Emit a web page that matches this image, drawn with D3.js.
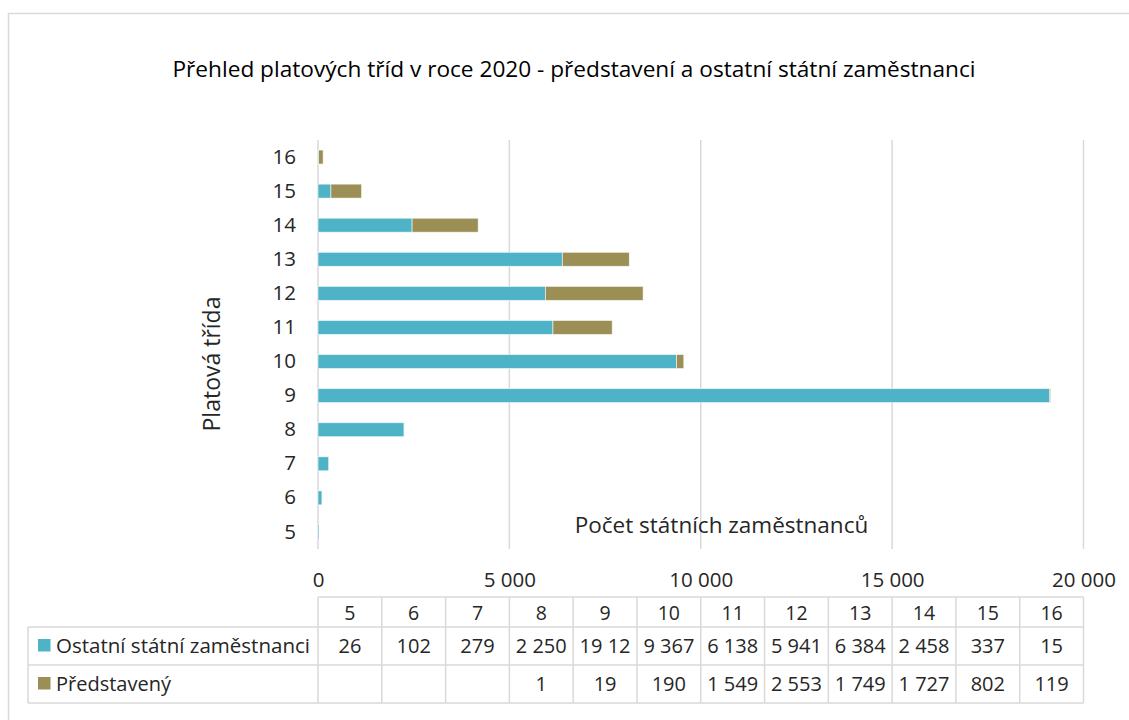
<!DOCTYPE html>
<html>
<head>
<meta charset="utf-8">
<script src="https://cdn.jsdelivr.net/npm/d3@7"></script>
<style>
  html, body { margin: 0; padding: 0; background: #fff; }
  svg { display: block; font-family: "Open Sans", "Noto Sans", sans-serif; }
</style>
</head>
<body>
<svg id="chart" width="1129" height="720"></svg>
<script>
// ---- data ----
const categories = ["5", "6", "7", "8", "9", "10", "11", "12", "13", "14", "15", "16"];
const ostatni    = [26, 102, 279, 2250, 19120, 9367, 6138, 5941, 6384, 2458, 337, 15];
const predstaveny = [null, null, null, 1, 19, 190, 1549, 2553, 1749, 1727, 802, 119];
const seriesNames = ["Ostatní státní zaměstnanci", "Představený"];
const xTicks = [0, 5000, 10000, 15000, 20000];
const titleText = "Přehled platových tříd v roce 2020 - představení a ostatní státní zaměstnanci";
const xTitle = "Počet státních zaměstnanců";
const yTitle = "Platová třída";

// ---- setup ----
const colors = ["#4fb3c8", "#9b8f55"];
const grid = "#d9d9d9";
const textCol = "#262626";
const svg = d3.select("#chart");

const fmt = v => d3.format(",")(v).replace(/,/g, "\u00a0");

// outer frame
svg.append("rect").attr("x", 8.5).attr("y", 13.5).attr("width", 1300).attr("height", 900)
  .attr("fill", "none").attr("stroke", grid).attr("stroke-width", 1.5);

// title
svg.append("text").attr("x", 574).attr("y", 77).attr("text-anchor", "middle")
  .attr("font-size", 21).attr("fill", "#000")
  .attr("textLength", 803).attr("lengthAdjust", "spacingAndGlyphs")
  .text(titleText);

const x = d3.scaleLinear().domain([0, 20000]).range([318, 1083.5]);
const y = d3.scaleBand().domain(categories.slice().reverse()).range([140, 549]).paddingInner(0.59).paddingOuter(0.295);

// gridlines (incl. axis line at 0)
svg.append("g").selectAll("line").data(xTicks).join("line")
  .attr("x1", d => x(d)).attr("x2", d => x(d))
  .attr("y1", 140).attr("y2", 549)
  .attr("stroke", grid).attr("stroke-width", 1.5);

// stacked bars
const rows = categories.map((c, i) => ({ cat: c, a: ostatni[i] || 0, b: predstaveny[i] || 0 }));
const stack = d3.stack().keys(["a", "b"])(rows);
svg.append("g").selectAll("g").data(stack).join("g")
  .attr("fill", (d, i) => colors[i])
  .selectAll("rect").data(d => d.filter(p => p[1] - p[0] > 0)).join("rect")
  .attr("x", d => x(d[0]))
  .attr("width", d => x(d[1]) - x(d[0]))
  .attr("y", d => y(d.data.cat))
  .attr("height", y.bandwidth())
  .attr("stroke", "#ffffff").attr("stroke-opacity", 0.7).attr("stroke-width", 0.8);

// y axis labels
const yAxis = svg.append("g").attr("transform", "translate(318,0)")
  .call(d3.axisLeft(y).tickSize(0).tickPadding(22));
yAxis.select(".domain").remove();
yAxis.selectAll("text").attr("font-size", 20.5).attr("fill", textCol)
  .attr("font-family", "'Open Sans', sans-serif");

// x axis labels
const xAxis = svg.append("g").attr("transform", "translate(0,568)")
  .call(d3.axisBottom(x).tickValues(xTicks).tickSize(0).tickPadding(0).tickFormat(fmt));
xAxis.select(".domain").remove();
xAxis.selectAll("text").attr("font-size", 20.5).attr("fill", textCol)
  .attr("font-family", "'Open Sans', sans-serif").attr("dy", "0.93em");

// axis titles
svg.append("text").attr("x", 721.5).attr("y", 533).attr("text-anchor", "middle")
  .attr("font-size", 22.5).attr("fill", textCol).text(xTitle);
svg.append("text").attr("transform", "translate(220,364) rotate(-90)").attr("text-anchor", "middle")
  .attr("font-size", 23).attr("fill", textCol).text(yTitle);

// ---- data table ----
const colW = (x(20000) - x(0)) / categories.length;
const colX = i => x(0) + i * colW;
const rowTop = [597, 627, 665, 703];
const tbl = svg.append("g");
const lineAttrs = sel => sel.attr("stroke", grid).attr("stroke-width", 1.5);

// horizontal lines
tbl.append("line").call(lineAttrs).attr("x1", colX(0)).attr("x2", colX(12)).attr("y1", rowTop[0]).attr("y2", rowTop[0]);
[1, 2, 3].forEach(r => tbl.append("line").call(lineAttrs).attr("x1", 28).attr("x2", colX(12)).attr("y1", rowTop[r]).attr("y2", rowTop[r]));
// vertical lines
d3.range(13).forEach(i => tbl.append("line").call(lineAttrs).attr("x1", colX(i)).attr("x2", colX(i)).attr("y1", rowTop[0]).attr("y2", rowTop[3]));
tbl.append("line").call(lineAttrs).attr("x1", 28).attr("x2", 28).attr("y1", rowTop[1]).attr("y2", rowTop[3]);

// header row
tbl.selectAll("text.hdr").data(categories).join("text").attr("class", "hdr")
  .attr("x", (d, i) => colX(i) + colW / 2).attr("y", 619.5)
  .attr("text-anchor", "middle").attr("font-size", 19.5).attr("fill", textCol).text(d => d);

// Excel clips overflowing cell text: drop trailing characters until it fits
function fitText(sel, maxW) {
  sel.each(function () {
    const t = d3.select(this);
    let s = t.text();
    while (s.length > 1 && this.getComputedTextLength() > maxW) {
      s = s.slice(0, -1).trimEnd();
      t.text(s);
    }
  });
}

const seriesVals = [ostatni, predstaveny];
const baselines = [653, 691];
seriesVals.forEach((vals, s) => {
  tbl.append("rect").attr("x", 38).attr("y", baselines[s] - 14).attr("width", 12.5).attr("height", 12.5).attr("fill", colors[s]);
  tbl.append("text").attr("x", 56).attr("y", baselines[s]).attr("font-size", 20).attr("fill", textCol)
    .attr("textLength", s === 0 ? 254 : null).attr("lengthAdjust", "spacingAndGlyphs")
    .text(seriesNames[s]);
  tbl.selectAll("text.v" + s).data(vals).join("text").attr("class", "v" + s)
    .attr("x", (d, i) => colX(i) + colW / 2).attr("y", baselines[s])
    .attr("text-anchor", "middle").attr("font-size", 20).attr("fill", textCol)
    .text(d => d == null ? "" : fmt(d))
    .call(fitText, colW - 5);
});
</script>
</body>
</html>
